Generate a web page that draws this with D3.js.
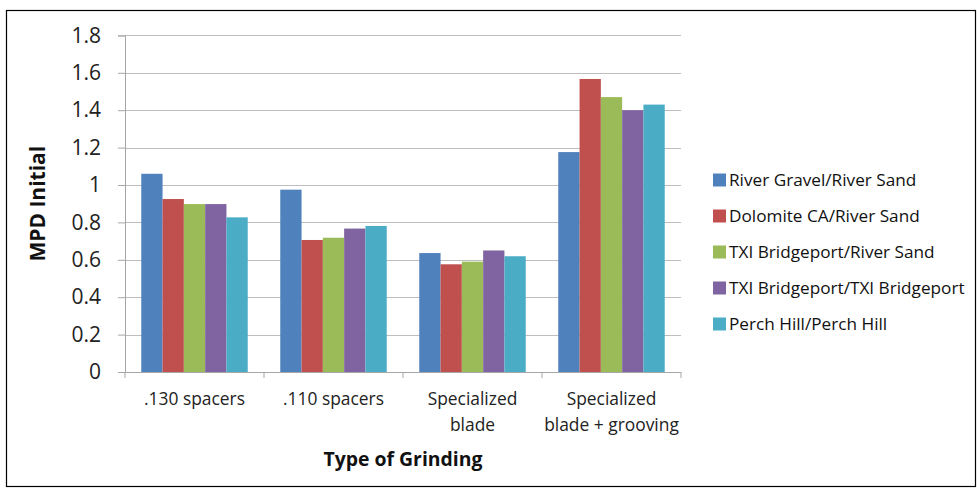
<!DOCTYPE html>
<html><head><meta charset="utf-8">
<script src="https://cdn.jsdelivr.net/npm/d3@7"></script>
<style>body{margin:0;background:#fff;} text{font-family:"Open Sans",Lato,sans-serif;}</style>
</head><body>
<svg id="c" width="977" height="489"></svg>
<script>
const categories = [[".130 spacers"], [".110 spacers"], ["Specialized", "blade"], ["Specialized", "blade + grooving"]];
const seriesNames = ["River Gravel/River Sand", "Dolomite CA/River Sand", "TXI Bridgeport/River Sand", "TXI Bridgeport/TXI Bridgeport", "Perch Hill/Perch Hill"];
const riverGravel = [1.06, 0.975, 0.636, 1.176];
const dolomite = [0.925, 0.706, 0.576, 1.567];
const txiRiver = [0.898, 0.718, 0.59, 1.47];
const txiTxi = [0.898, 0.767, 0.65, 1.40];
const perchHill = [0.827, 0.781, 0.619, 1.43];
const yTicks = [0, 0.2, 0.4, 0.6, 0.8, 1, 1.2, 1.4, 1.6, 1.8];
const colors = ["#4F81BD", "#C0504D", "#9BBB59", "#8064A2", "#4BACC6"];
const series = [riverGravel, dolomite, txiRiver, txiTxi, perchHill];

const svg = d3.select("#c");
svg.append("rect").attr("x", 6.5).attr("y", 10.5).attr("width", 969).attr("height", 476)
  .attr("fill", "#fff").attr("stroke", "#000").attr("stroke-width", 1.2);

const pL = 125, pR = 681, pT = 35.4, pB = 372;
const x0 = d3.scaleBand().domain(d3.range(categories.length)).range([pL, pR]).paddingInner(0.234).paddingOuter(0.117);
const x1 = d3.scaleBand().domain(d3.range(series.length)).range([0, x0.bandwidth()]);
const y = d3.scaleLinear().domain([0, 1.8]).range([pB, pT]);

// gridlines
svg.append("g").selectAll("line").data(yTicks.slice(1)).join("line")
  .attr("x1", pL).attr("x2", pR).attr("y1", d => Math.round(y(d)) + 0.5).attr("y2", d => Math.round(y(d)) + 0.5)
  .attr("stroke", "#bdbdbd").attr("stroke-width", 1);

// bars
const g = svg.append("g");
series.forEach((s, si) => {
  g.selectAll(null).data(s).join("rect")
    .attr("x", (d, i) => x0(i) + x1(si))
    .attr("width", x1.bandwidth())
    .attr("y", d => y(d))
    .attr("height", d => pB - y(d))
    .attr("fill", colors[si]);
});

// y axis
const yAxis = d3.axisLeft(y).tickValues(yTicks).tickSize(7).tickPadding(17).tickFormat(d => d3.format("")(d));
const ya = svg.append("g").attr("transform", `translate(${pL},0)`).call(yAxis);
ya.select(".domain").attr("stroke", "#a6a6a6");
ya.selectAll(".tick line").attr("stroke", "#a6a6a6");
ya.selectAll(".tick text").attr("font-size", 21).attr("fill", "#222").style("font-family", "'Open Sans',sans-serif");

// x axis baseline
svg.append("line").attr("x1", pL).attr("x2", pR).attr("y1", pB + 0.5).attr("y2", pB + 0.5).attr("stroke", "#a6a6a6");
const bounds = d3.range(categories.length + 1).map(i => pL + i * (pR - pL) / categories.length);
svg.append("g").selectAll("line").data(bounds).join("line")
  .attr("x1", d => d).attr("x2", d => d).attr("y1", pB).attr("y2", pB + 6).attr("stroke", "#a6a6a6");

// category labels
const cl = svg.append("g").selectAll("text").data(categories).join("text")
  .attr("x", (d, i) => x0(i) + x0.bandwidth() / 2).attr("y", 405)
  .attr("text-anchor", "middle").attr("font-size", 17.4).attr("fill", "#222");
cl.selectAll("tspan").data(d => d).join("tspan")
  .attr("x", function() { return this.parentNode.getAttribute("x"); })
  .attr("dy", (d, i) => i === 0 ? 0 : 26).text(d => d);

// axis titles
svg.append("text").attr("x", (pL + pR) / 2).attr("y", 466).attr("text-anchor", "middle")
  .attr("font-size", 19.4).attr("font-weight", "bold").attr("fill", "#111").text("Type of Grinding");
svg.append("text").attr("transform", `translate(45,${(pT + pB) / 2}) rotate(-90)`).attr("text-anchor", "middle")
  .attr("font-size", 21).attr("font-weight", "bold").attr("fill", "#111").text("MPD Initial");

// legend
const lg = svg.append("g").selectAll("g").data(seriesNames).join("g")
  .attr("transform", (d, i) => `translate(713,${180 + i * 36})`);
lg.append("rect").attr("x", 0).attr("y", -6.5).attr("width", 13).attr("height", 13).attr("fill", (d, i) => colors[i]);
lg.append("text").attr("x", 16).attr("y", 0).attr("dy", "0.35em").attr("font-size", 17.2).attr("fill", "#111").text(d => d);
</script>
</body></html>
